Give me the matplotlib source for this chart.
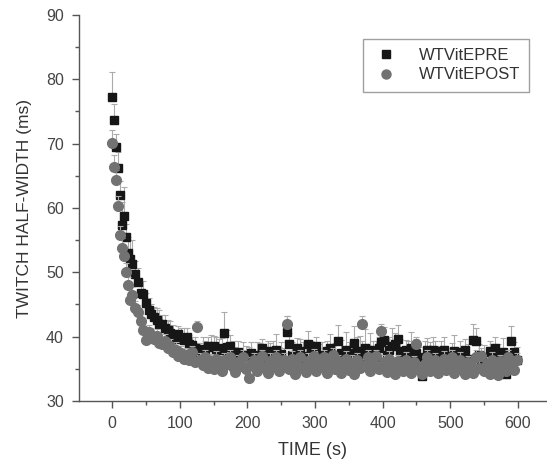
import numpy as np
import matplotlib
matplotlib.use("Agg")
import matplotlib.pyplot as plt
from matplotlib.lines import Line2D
from matplotlib.ticker import MultipleLocator

plt.rcParams['font.family'] = ['Liberation Sans', 'DejaVu Sans']

# sampling times (s)
time = [0, 3, 6, 9, 12, 15, 18, 21, 24, 27, 30, 34, 38, 42, 46, 50] + list(range(54, 600, 4))

# WTVitEPRE (ms)
pre = [77.2, 73.7, 69.5, 66.2, 62.0, 57.4, 58.8, 55.5, 53.0, 52.0, 51.3, 49.8, 48.5, 46.8, 46.7, 45.2,
       44.2, 43.6, 43.0, 42.6, 42.0, 41.9, 41.4, 41.0, 40.6, 40.3,
       39.6, 40.4, 39.8, 39.5, 39.9, 38.9, 38.7, 38.3, 37.8, 37.6,
       38.1, 37.3, 38.5, 38.4, 38.5, 37.9, 38.3, 38.0, 40.6, 38.4,
       38.5, 37.3, 36.9, 37.6, 36.4, 37.1, 36.0, 37.0, 37.5, 35.8,
       36.9, 37.2, 38.2, 36.2, 37.8, 36.6, 37.6, 38.0, 36.8, 37.3,
       36.2, 40.8, 38.8, 37.2, 36.1, 38.3, 37.8, 36.5, 37.0, 38.9,
       37.5, 36.3, 38.5, 36.0, 37.2, 36.8, 37.8, 38.2, 36.6, 37.2,
       39.4, 37.5, 36.1, 38.0, 36.8, 37.4, 39.0, 37.8, 36.6, 37.4,
       38.2, 36.9, 38.0, 37.4, 36.5, 38.3, 39.1, 39.5, 37.2, 38.0,
       38.5, 38.9, 39.6, 37.8, 36.5, 37.9, 37.4, 38.2, 36.4, 37.5,
       36.0, 33.9, 36.8, 38.0, 37.1, 38.0, 37.8, 36.2, 37.5, 38.0,
       36.8, 35.2, 37.0, 37.8, 36.4, 37.6, 36.1, 38.0, 36.6, 35.4,
       39.5, 39.4, 37.2, 35.5, 36.9, 35.4, 37.8, 36.4, 38.2, 36.9,
       35.6, 37.6, 34.2, 35.0, 39.3, 37.6, 36.4]
pre_err = [4.0, 2.5, 2.0, 2.5, 2.2, 3.5, 4.5, 2.0, 2.5, 3.0, 3.8, 2.0, 2.2, 1.8, 2.0, 1.6,
           1.8, 1.5, 1.6, 1.8, 2.2, 1.5, 2.0, 1.6, 1.8, 1.5,
           1.4, 1.2, 1.6, 1.8, 1.5, 1.4, 1.2, 1.6, 1.2, 1.4,
           1.8, 2.0, 1.5, 1.8, 1.6, 2.0, 1.4, 1.8, 3.3, 2.6,
           1.8, 2.0, 1.5, 1.8, 1.6, 2.0, 2.5, 1.4, 1.6, 2.0,
           2.2, 1.8, 1.5, 2.0, 1.6, 2.4, 1.8, 2.4, 1.6, 1.8,
           2.0, 2.4, 1.8, 2.0, 2.8, 1.5, 1.8, 2.6, 1.4, 2.0,
           1.8, 1.6, 1.4, 2.8, 2.0, 1.5, 1.5, 2.2, 2.0, 1.8,
           2.4, 2.0, 1.6, 2.8, 2.4, 1.5, 2.6, 2.2, 3.5, 2.0,
           3.0, 1.8, 2.6, 2.0, 2.8, 1.6, 1.8, 2.0, 2.4, 2.0,
           2.8, 1.6, 2.2, 1.8, 1.4, 1.6, 2.0, 2.6, 1.6, 2.2,
           2.4, 2.0, 2.6, 1.8, 2.0, 2.0, 1.6, 2.4, 1.8, 2.0,
           1.4, 2.2, 2.0, 2.4, 1.6, 1.8, 2.0, 1.6, 2.2, 1.8,
           2.4, 2.0, 1.6, 2.2, 1.8, 2.0, 1.6, 2.4, 1.8, 2.0,
           1.6, 2.2, 2.0, 1.8, 2.4, 1.6, 2.0]

# WTVitEPOST (ms)
post = [70.1, 66.4, 64.4, 60.3, 55.8, 53.8, 52.5, 50.0, 48.0, 45.7, 46.5, 44.5, 43.8, 42.5, 41.0, 39.5,
        40.8, 40.2, 39.6, 40.1, 39.0, 38.8, 39.4, 38.2, 38.6, 37.6,
        38.0, 37.0, 37.4, 36.6, 37.2, 36.4, 37.6, 36.0, 41.5, 36.3,
        35.6, 36.8, 35.2, 36.2, 35.0, 36.6, 35.6, 34.6, 36.4, 35.8,
        36.9, 35.3, 34.5, 36.0, 35.4, 36.8, 35.0, 33.6, 35.8, 36.4,
        34.6, 35.6, 37.0, 35.2, 34.4, 36.2, 35.5, 36.8, 34.7, 35.8,
        36.4, 42.0, 35.0, 36.6, 34.2, 35.6, 36.9, 35.1, 34.5, 36.2,
        35.4, 37.0, 34.6, 36.0, 35.3, 36.8, 34.4, 35.8, 37.2, 35.0,
        36.2, 34.3, 35.6, 36.6, 34.8, 35.9, 34.2, 36.4, 35.2, 42.0,
        35.6, 36.8, 34.6, 35.8, 37.0, 35.0, 40.9, 36.0, 34.5, 36.6,
        35.4, 34.2, 36.2, 35.6, 34.6, 36.4, 35.2, 34.4, 36.0, 38.8,
        35.0, 34.2, 35.8, 36.8, 34.6, 35.6, 36.4, 34.3, 35.4, 36.6,
        34.8, 35.8, 36.9, 34.4, 35.6, 36.4, 35.0, 34.2, 36.0, 35.4,
        34.4, 36.8, 35.2, 37.0, 34.6, 35.8, 34.2, 36.4, 35.2, 34.0,
        36.2, 35.4, 34.6, 36.8, 35.6, 34.8, 36.4]
post_err = [2.0, 1.8, 1.5, 1.6, 1.4, 1.5, 1.2, 1.4, 1.2, 1.0, 1.2, 1.0, 1.1, 1.0, 1.2, 1.0,
            1.0, 1.2, 1.0, 1.1, 1.0, 1.2, 1.0, 1.1, 1.0, 1.0,
            1.1, 1.0, 1.2, 1.0, 1.0, 1.1, 1.0, 1.2, 1.0, 1.1,
            1.0, 1.2, 1.0, 1.1, 1.0, 1.2, 1.0, 1.1, 1.0, 1.2,
            1.0, 1.1, 1.0, 1.2, 1.0, 1.1, 1.0, 1.2, 1.0, 1.1,
            1.0, 1.2, 1.0, 1.1, 1.0, 1.2, 1.0, 1.1, 1.0, 1.2,
            1.0, 1.2, 1.0, 1.1, 1.0, 1.2, 1.0, 1.1, 1.0, 1.2,
            1.0, 1.1, 1.0, 1.2, 1.0, 1.1, 1.0, 1.2, 1.0, 1.1,
            1.0, 1.2, 1.0, 1.1, 1.0, 1.2, 1.0, 1.1, 1.0, 1.2,
            1.0, 1.1, 1.0, 1.2, 1.0, 1.1, 1.0, 1.2, 1.0, 1.1,
            1.0, 1.2, 1.0, 1.1, 1.0, 1.2, 1.0, 1.1, 1.0, 1.2,
            1.0, 1.1, 1.0, 1.2, 1.0, 1.1, 1.0, 1.2, 1.0, 1.1,
            1.0, 1.2, 1.0, 1.1, 1.0, 1.2, 1.0, 1.1, 1.0, 1.2,
            1.0, 1.1, 1.0, 1.2, 1.0, 1.1, 1.0, 1.2, 1.0, 1.1,
            1.0, 1.2, 1.0, 1.1, 1.0, 1.2, 1.0]

pre_col = '#161616'
post_col = '#727272'
err_col = '#ababab'

W, H = 547, 461
fig = plt.figure(figsize=(W / 100, H / 100), dpi=100)
ax = fig.add_axes([79 / W, 60 / H, (W - 79) / W, (401 - 15) / H])

ax.errorbar(time, pre, yerr=[np.zeros(len(pre_err)), pre_err], fmt='s', ms=5.8,
            color=pre_col, mec=pre_col, ecolor=err_col, elinewidth=0.8, capsize=2.5,
            capthick=0.8, zorder=2)
ax.errorbar(time, post, yerr=[np.zeros(len(post_err)), post_err], fmt='o', ms=7.0,
            color=post_col, mec=post_col, ecolor=err_col, elinewidth=0.8, capsize=2.5,
            capthick=0.8, zorder=3)

ax.set_xlim(-49, 643)
ax.set_ylim(30, 90)
ax.xaxis.set_major_locator(MultipleLocator(100))
ax.xaxis.set_minor_locator(MultipleLocator(50))
ax.yaxis.set_major_locator(MultipleLocator(10))
ax.yaxis.set_minor_locator(MultipleLocator(5))

for s in ['top', 'right']:
    ax.spines[s].set_visible(False)
for s in ['left', 'bottom']:
    ax.spines[s].set_color('#555555')
    ax.spines[s].set_linewidth(1.0)
ax.tick_params(which='major', direction='out', length=5, width=1.0, color='#555555',
               labelsize=11.5, labelcolor='#444444', pad=6)
ax.tick_params(which='minor', direction='out', length=3, width=1.0, color='#555555')

ax.set_xlabel('TIME (s)', fontsize=13, color='#333333', labelpad=8)
ax.set_ylabel('TWITCH HALF-WIDTH (ms)', fontsize=12.5, color='#333333', labelpad=10)

handles = [Line2D([], [], ls='none', marker='s', ms=5.8, color=pre_col),
           Line2D([], [], ls='none', marker='o', ms=6.5, color=post_col)]
leg = fig.legend(handles, ['WTVitEPRE', 'WTVitEPOST'], loc='upper left',
                 bbox_to_anchor=(363 / W, 1 - 39 / H), borderaxespad=0, fontsize=12,
                 frameon=True, fancybox=False, edgecolor='#888888', borderpad=0.55,
                 handletextpad=1.2, labelspacing=0.25, handlelength=1.6,
                 labelcolor='#333333')
leg.get_frame().set_linewidth(1.0)

fig.savefig('out.png', dpi=100)
